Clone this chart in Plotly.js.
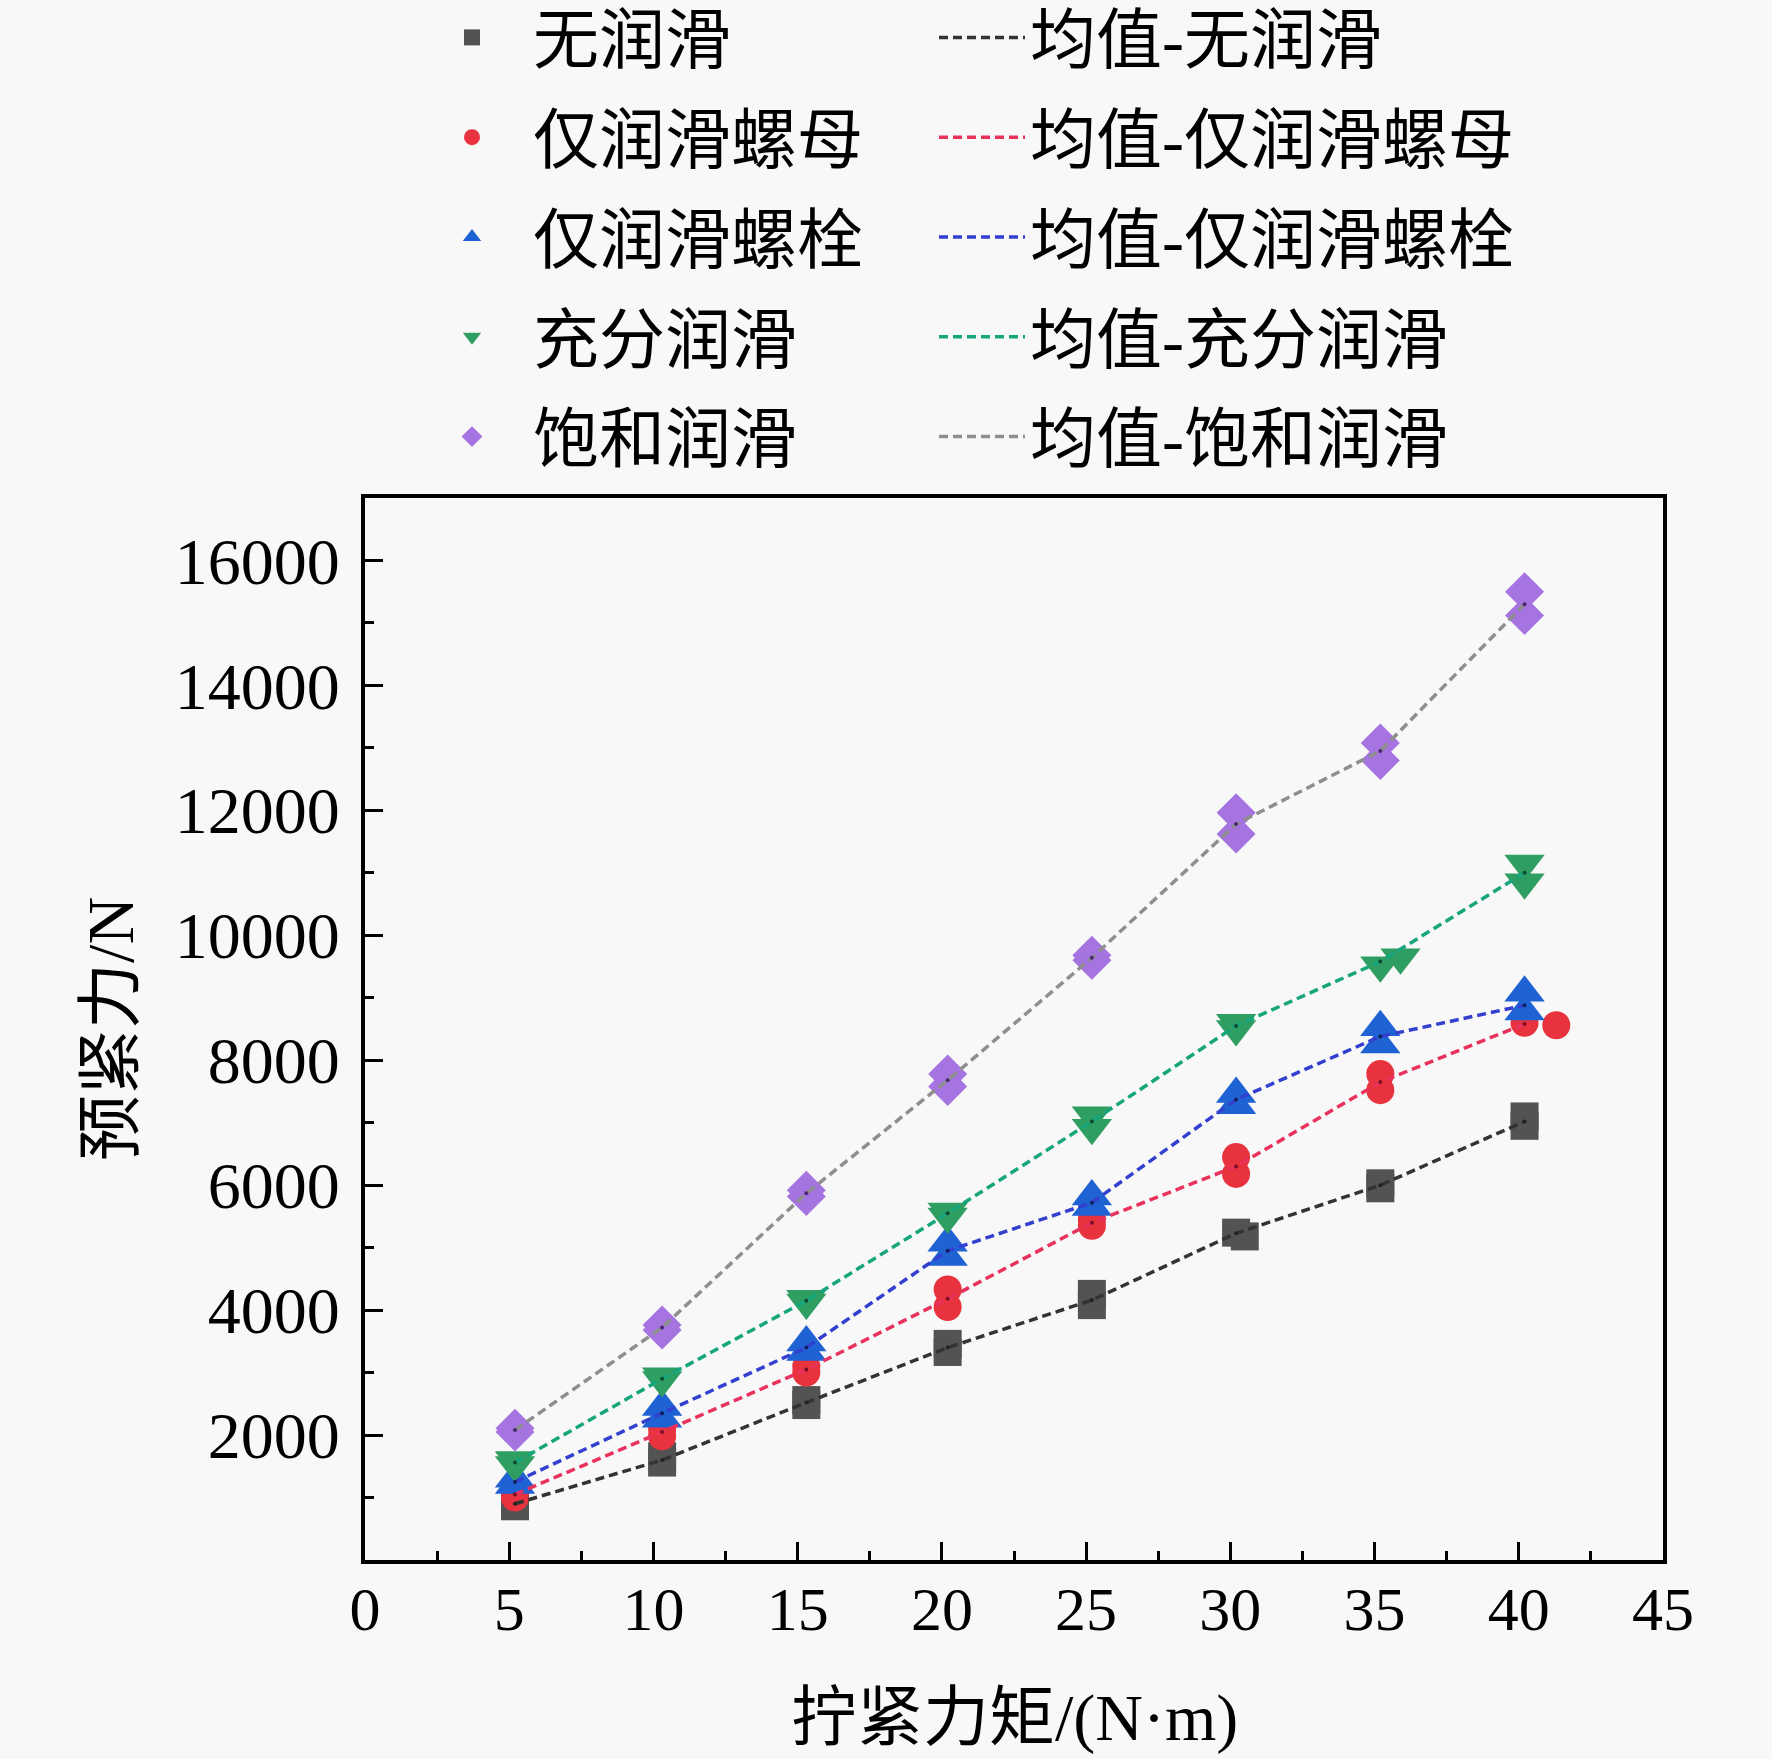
<!DOCTYPE html>
<html>
<head>
<meta charset="utf-8">
<script src="https://cdn.plot.ly/plotly-3.0.1.min.js"></script>
<style>
  html, body { margin: 0; padding: 0; background: #f8f8f8; }
  #chart { width: 1772px; height: 1759px; }
</style>
</head>
<body>
<div id="chart"></div>
<script>
// Measured torque (N·m) for each test, slightly above the nominal setting
const x_none = [5.2, 5.2, 10.3, 10.3, 15.3, 15.3, 20.2, 20.2, 25.2, 25.2, 30.2, 30.5, 35.2, 35.2, 40.2, 40.2];
const y_none = [860, 940, 1560, 1660, 2480, 2560, 3330, 3460, 4080, 4260, 5240, 5180, 5950, 6030, 6950, 7100];

const x_nut = [5.2, 5.2, 10.3, 10.3, 15.3, 15.3, 20.2, 20.2, 25.2, 25.2, 30.2, 30.2, 35.2, 35.2, 40.2, 41.3];
const y_nut = [1000, 1100, 1980, 2100, 3000, 3100, 4050, 4330, 5350, 5450, 6180, 6450, 7520, 7780, 8600, 8560];

const x_bolt = [5.2, 5.2, 10.3, 10.3, 15.3, 15.3, 20.2, 20.2, 25.2, 25.2, 30.2, 30.2, 35.2, 35.2, 40.2, 40.2];
const y_bolt = [1200, 1300, 2260, 2450, 3330, 3480, 4850, 5080, 5650, 5820, 7280, 7460, 8250, 8530, 8780, 9080];

const x_full = [5.2, 5.2, 10.3, 10.3, 15.3, 15.3, 20.2, 20.2, 25.2, 25.2, 30.2, 30.2, 35.2, 35.9, 40.2, 40.2];
const y_full = [1520, 1600, 2880, 2940, 4120, 4180, 5500, 5580, 6920, 7120, 8500, 8600, 9520, 9650, 10850, 11150];

const x_sat = [5.2, 5.2, 10.3, 10.3, 15.3, 15.3, 20.2, 20.2, 25.2, 25.2, 30.2, 30.2, 35.2, 35.2, 40.2, 40.2];
const y_sat = [2050, 2110, 3680, 3760, 5820, 5920, 7580, 7780, 9600, 9680, 11620, 11960, 12800, 13080, 15120, 15500];

// Mean values, one per torque level
const x_mean = [5.2, 10.3, 15.3, 20.2, 25.2, 30.2, 35.2, 40.2];
const mean_none = [900, 1600, 2520, 3400, 4160, 5230, 6000, 7020];
const mean_nut = [1050, 2050, 3050, 4180, 5400, 6300, 7650, 8580];
const mean_bolt = [1250, 2350, 3400, 4950, 5720, 7370, 8380, 8880];
const mean_full = [1560, 2900, 4150, 5550, 7020, 8550, 9580, 11000];
const mean_sat = [2080, 3720, 5870, 7680, 9640, 11780, 12950, 15300];

const y_ticks = [2000, 4000, 6000, 8000, 10000, 12000, 14000, 16000];
const y_minor = [1000, 3000, 5000, 7000, 9000, 11000, 13000, 15000];
const x_ticks = [0, 5, 10, 15, 20, 25, 30, 35, 40, 45];

const names = ['无润滑', '仅润滑螺母', '仅润滑螺栓', '充分润滑', '饱和润滑'];

const font_family = '"Liberation Serif", "Noto Sans CJK SC", serif';

/**
 * One scatter trace for the raw test points of a lubrication case.
 */
function points_trace(x, y, name, symbol, size, color, group) {
  return {
    x: x,
    y: y,
    name: name,
    mode: 'markers',
    type: 'scatter',
    legend: 'legend',
    legendgroup: group,
    marker: { symbol: symbol, size: size, color: color, line: { width: 0 } },
  };
}

/**
 * Dashed line through the mean values of a lubrication case.
 */
function mean_trace(y, name, color, group) {
  return {
    x: x_mean,
    y: y,
    name: '均值-' + name,
    mode: 'lines',
    type: 'scatter',
    legend: 'legend2',
    legendgroup: group,
    line: { color: color, width: 3.5, dash: '9px,5px' },
  };
}

/**
 * Small dark dots sitting on the mean positions.
 */
function mean_dots(y, color) {
  return {
    x: x_mean,
    y: y,
    mode: 'markers',
    type: 'scatter',
    showlegend: false,
    hoverinfo: 'skip',
    marker: { size: 4, color: color },
  };
}

var chart_data = [
  points_trace(x_none, y_none, names[0], 'square', 28, '#535353', 'a'),
  points_trace(x_nut, y_nut, names[1], 'circle', 28, '#e8323e', 'b'),
  points_trace(x_bolt, y_bolt, names[2], 'triangle-up', 35, '#1f62d4', 'c'),
  points_trace(x_full, y_full, names[3], 'triangle-down', 35, '#2f9e62', 'd'),
  points_trace(x_sat, y_sat, names[4], 'diamond', 30, '#a674e0', 'e'),
  mean_trace(mean_none, names[0], '#333333', 'f'),
  mean_trace(mean_nut, names[1], '#e8325c', 'g'),
  mean_trace(mean_bolt, names[2], '#3340cf', 'h'),
  mean_trace(mean_full, names[3], '#17a57c', 'i'),
  mean_trace(mean_sat, names[4], '#8e8e8e', 'j'),
  mean_dots(mean_none, '#222222'),
  mean_dots(mean_nut, '#7a1020'),
  mean_dots(mean_bolt, '#10205a'),
  mean_dots(mean_full, '#0f4a30'),
  mean_dots(mean_sat, '#4a2a70'),
];

var axis_common = {
  showline: true,
  linecolor: '#000000',
  linewidth: 4,
  mirror: true,
  ticks: 'inside',
  ticklen: 18,
  tickwidth: 3,
  tickcolor: '#000000',
  showgrid: false,
  zeroline: false,
  automargin: false,
  tickformat: 'd',
};

var legend_common = {
  xref: 'container',
  yref: 'paper',
  y: 1.0113,
  xanchor: 'left',
  yanchor: 'bottom',
  bgcolor: 'rgba(0,0,0,0)',
  borderwidth: 0,
  tracegroupgap: 11,
  font: { family: font_family, size: 66, color: '#000000' },
};

var title_font = { family: font_family, size: 66, color: '#000000' };

var chart_layout = {
  width: 1772,
  height: 1759,
  paper_bgcolor: '#f8f8f8',
  plot_bgcolor: '#f8f8f8',
  margin: { l: 365, r: 109, t: 498, b: 199, autoexpand: false },
  font: { family: font_family, color: '#000000' },
  xaxis: Object.assign({}, axis_common, {
    range: [0, 45],
    tickvals: x_ticks,
    ticklabelstandoff: -8,
    tickfont: { family: font_family, size: 62, color: '#000000' },
    minor: { dtick: 2.5, tick0: 0, ticks: 'inside', ticklen: 9, tickwidth: 3, tickcolor: '#000000' },
  }),
  yaxis: Object.assign({}, axis_common, {
    range: [0, 17000],
    tickvals: y_ticks,
    ticklabelstandoff: 8,
    tickfont: { family: font_family, size: 66, color: '#000000' },
    minor: { tickvals: y_minor, ticks: 'inside', ticklen: 9, tickwidth: 3, tickcolor: '#000000' },
  }),
  // Axis titles as annotations so they sit exactly where the original has them
  annotations: [
    {
      text: '拧紧力矩/(N·m)',
      xref: 'paper',
      yref: 'paper',
      x: 0.5,
      y: -0.1488,
      xanchor: 'center',
      yanchor: 'middle',
      showarrow: false,
      font: title_font,
    },
    {
      text: '预紧力/N',
      xref: 'paper',
      yref: 'paper',
      x: -0.1965,
      y: 0.5,
      xanchor: 'center',
      yanchor: 'middle',
      textangle: -90,
      showarrow: false,
      font: title_font,
    },
  ],
  legend: Object.assign({}, legend_common, {
    x: 411 / 1772,
    itemwidth: 112,
  }),
  legend2: Object.assign({}, legend_common, {
    x: 934 / 1772,
    itemwidth: 86,
  }),
  showlegend: true,
};

Plotly.newPlot('chart', chart_data, chart_layout, { staticPlot: true });
</script>
</body>
</html>
